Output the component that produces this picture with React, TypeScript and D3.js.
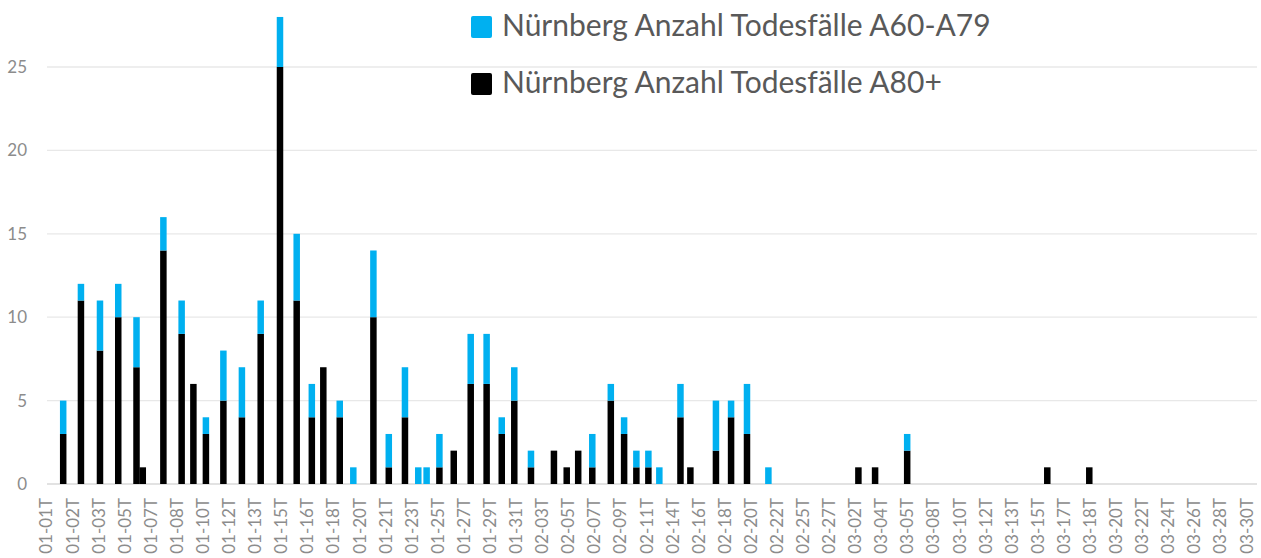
import React, { useRef, useEffect } from "react";
import * as d3 from "d3";

// x-axis labels (every second category row is labelled)
const xLabels = [
  "01-01T", "01-02T", "01-03T", "01-05T", "01-07T", "01-08T", "01-10T", "01-12T",
  "01-13T", "01-15T", "01-16T", "01-18T", "01-20T", "01-21T", "01-23T", "01-25T",
  "01-27T", "01-29T", "01-31T", "02-03T", "02-05T", "02-07T", "02-09T", "02-11T",
  "02-14T", "02-16T", "02-18T", "02-20T", "02-22T", "02-25T", "02-27T", "03-02T",
  "03-04T", "03-05T", "03-08T", "03-10T", "03-12T", "03-13T", "03-15T", "03-17T",
  "03-18T", "03-20T", "03-22T", "03-24T", "03-26T", "03-28T", "03-30T",
];

// bar position along the label axis (label index units)
const barPos = [
  0.64, 1.32, 2.05, 2.75, 3.45, 3.69, 4.48, 5.18, 5.63, 6.11,
  6.78, 7.49, 8.21, 8.95, 9.59, 10.17, 10.61, 11.24, 11.76, 12.53,
  13.12, 13.74, 14.25, 14.57, 15.06, 15.61, 16.26, 16.87, 17.45, 17.93,
  18.57, 19.45, 19.94, 20.38, 20.92, 21.63, 22.14, 22.61, 23.07, 23.49,
  24.3, 24.68, 25.66, 26.24, 26.85, 27.67, 31.12, 31.76, 32.99, 38.36,
  39.97,
];

// Nürnberg Anzahl Todesfälle A80+
const deathsA80 = [
  3, 11, 8, 10, 7, 1, 14, 9, 6, 3,
  5, 4, 9, 25, 11, 4, 7, 4, 0, 10,
  1, 4, 0, 0, 1, 2, 6, 6, 3, 5,
  1, 2, 1, 2, 1, 5, 3, 1, 1, 0,
  4, 1, 2, 4, 3, 0, 1, 1, 2, 1,
  1,
];

// Nürnberg Anzahl Todesfälle A60-A79
const deathsA60 = [
  2, 1, 3, 2, 3, 0, 2, 2, 0, 1,
  3, 3, 2, 3, 4, 2, 0, 1, 1, 4,
  2, 3, 1, 1, 2, 0, 3, 3, 1, 2,
  1, 0, 0, 0, 2, 1, 1, 1, 1, 1,
  2, 0, 3, 1, 3, 1, 0, 0, 1, 0,
  0,
];

const yTicks = [0, 5, 10, 15, 20, 25];

const seriesNames = [
  "Nürnberg Anzahl Todesfälle A60-A79",
  "Nürnberg Anzahl Todesfälle A80+",
];
const seriesColors = ["#00b0f0", "#000000"];

export default function App() {
  const ref = useRef(null);
  const width = 1261;
  const height = 558;

  useEffect(() => {
    const svg = d3.select(ref.current);
    svg.selectAll("*").remove();

    const plot = { left: 47, right: 1257 };
    const font = "Lato, 'Open Sans', sans-serif";

    const x = d3.scaleLinear().domain([0, xLabels.length - 1]).range([46.5, 1246.6]);
    const y = d3.scaleLinear().domain([0, 25]).range([484, 67]);

    // gridlines
    svg.append("g")
      .selectAll("line")
      .data(yTicks)
      .enter()
      .append("line")
      .attr("x1", plot.left)
      .attr("x2", plot.right)
      .attr("y1", d => y(d))
      .attr("y2", d => y(d))
      .attr("stroke", d => (d === 0 ? "#d9d9d9" : "#e8e8e8"))
      .attr("stroke-width", 1.3);

    // y labels
    svg.append("g")
      .selectAll("text")
      .data(yTicks)
      .enter()
      .append("text")
      .attr("x", 27)
      .attr("y", d => y(d))
      .attr("dy", "0.35em")
      .attr("text-anchor", "end")
      .attr("font-family", font)
      .attr("font-size", 17)
      .attr("fill", "#8c8c8c")
      .text(d => d);

    // x labels
    svg.append("g")
      .selectAll("text")
      .data(xLabels)
      .enter()
      .append("text")
      .attr("transform", (_, i) => `translate(${x(i)},498) rotate(-90)`)
      .attr("dy", "0.35em")
      .attr("text-anchor", "end")
      .attr("font-family", font)
      .attr("font-size", 17)
      .attr("fill", "#8c8c8c")
      .text(d => d);

    // stacked bars
    const rows = barPos.map((p, i) => ({ p, a80: deathsA80[i], a60: deathsA60[i] }));
    const stack = d3.stack().keys(["a80", "a60"])(rows);
    const barW = 6.5;

    svg.append("g")
      .selectAll("g")
      .data(stack)
      .enter()
      .append("g")
      .attr("fill", d => (d.key === "a80" ? seriesColors[1] : seriesColors[0]))
      .selectAll("rect")
      .data(d => d.filter(s => s[1] > s[0]))
      .enter()
      .append("rect")
      .attr("x", d => x(d.data.p) - barW / 2)
      .attr("width", barW)
      .attr("y", d => y(d[1]))
      .attr("height", d => y(d[0]) - y(d[1]));

    // legend
    const legend = svg.append("g");
    seriesNames.forEach((name, i) => {
      const ly = 27 + i * 57;
      legend.append("rect")
        .attr("x", 471)
        .attr("y", ly - 11)
        .attr("width", 21)
        .attr("height", 22)
        .attr("rx", 2)
        .attr("fill", seriesColors[i]);
      legend.append("text")
        .attr("x", 502)
        .attr("y", ly + 9)
        .attr("font-family", font)
        .attr("font-size", 30)
        .attr("fill", "#595959")
        .text(name);
    });
  }, []);

  return (
    <svg
      ref={ref}
      width={width}
      height={height}
      style={{ position: "absolute", left: 0, top: 0, background: "#fff" }}
    />
  );
}
